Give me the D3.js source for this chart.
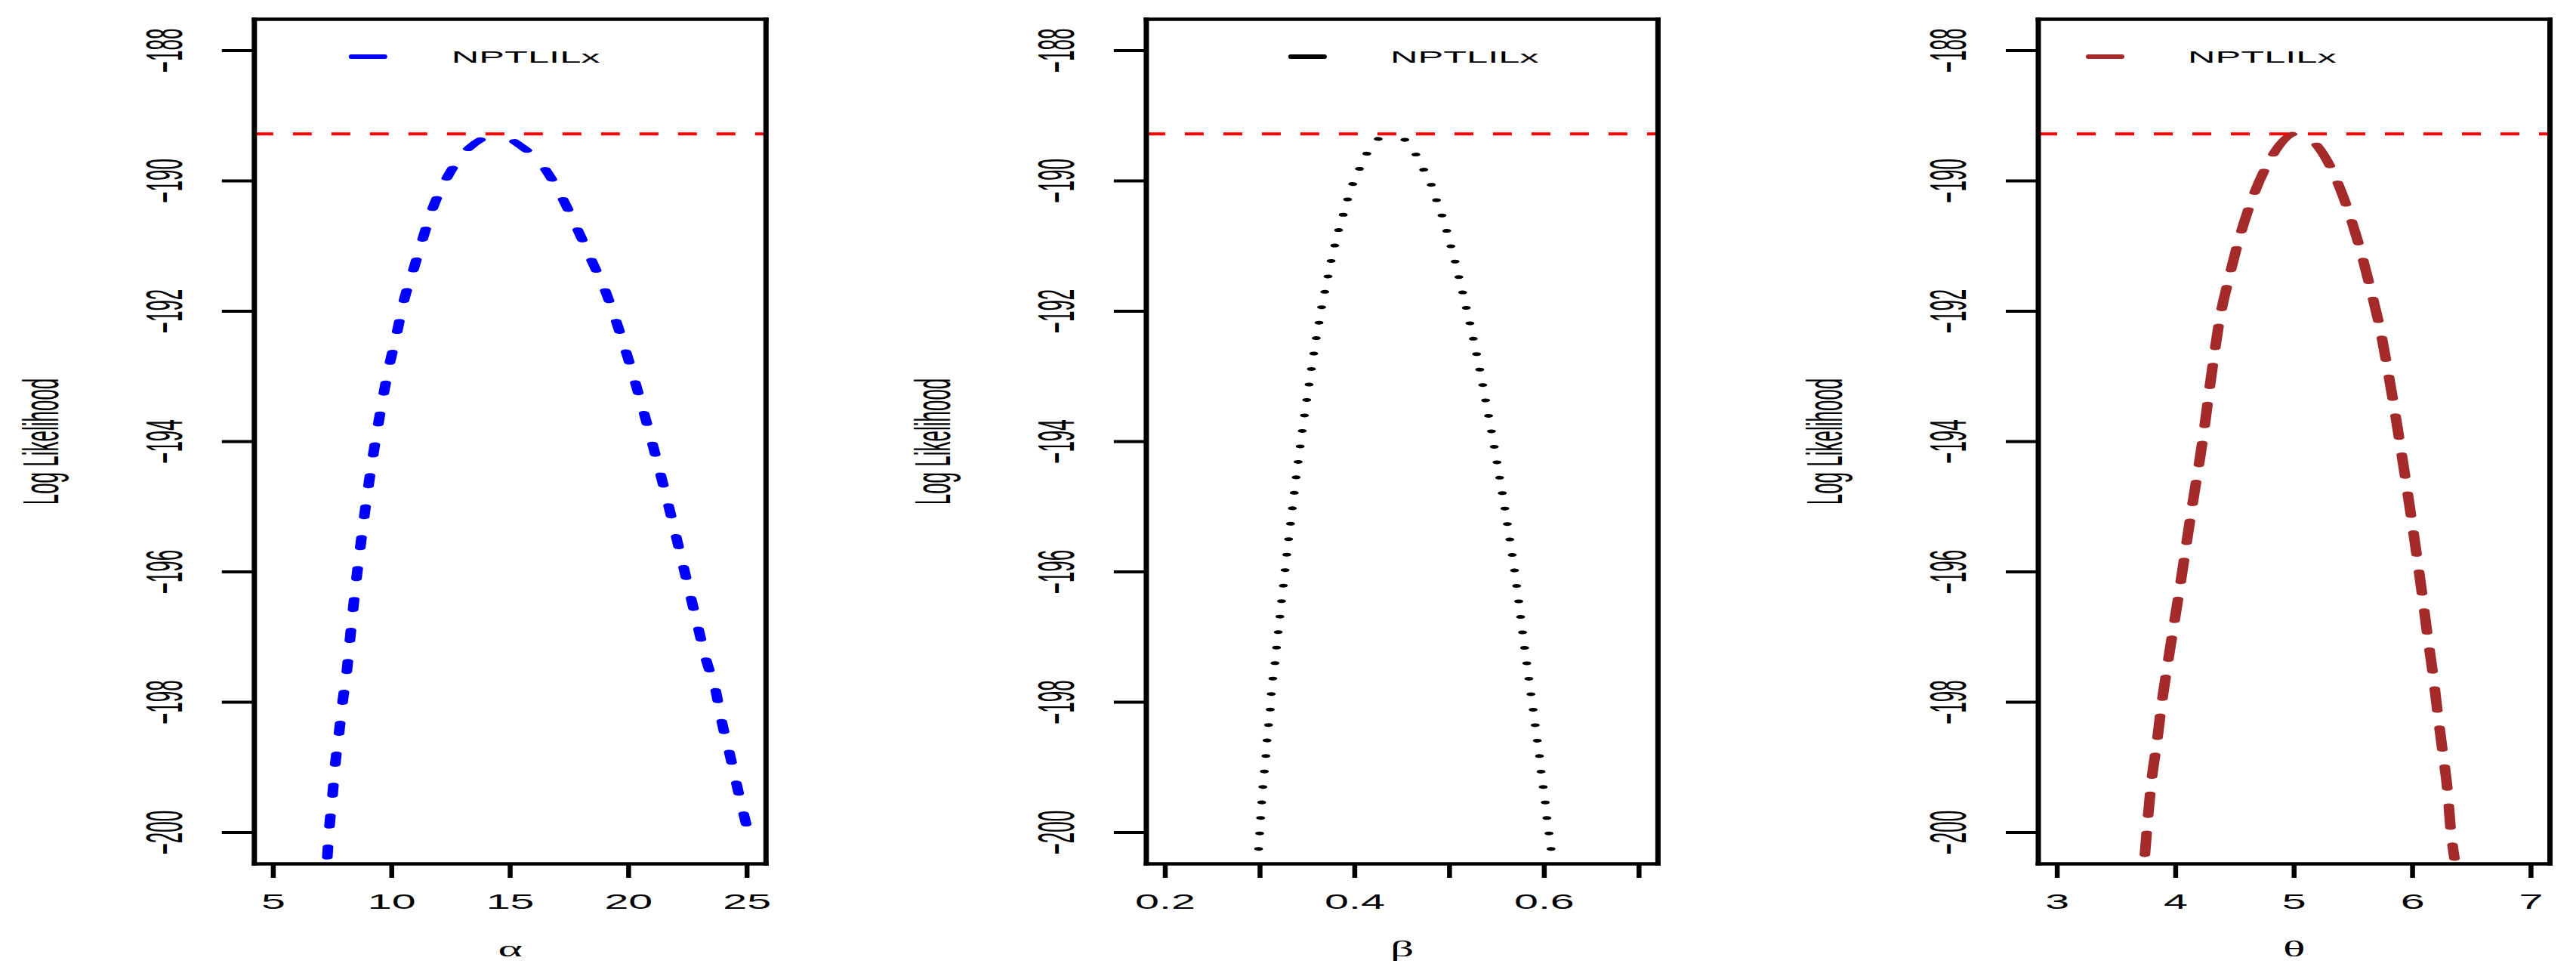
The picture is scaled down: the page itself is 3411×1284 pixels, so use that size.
<!DOCTYPE html>
<html><head><meta charset="utf-8">
<script src="https://cdn.jsdelivr.net/npm/d3@7"></script>
<style>html,body{margin:0;padding:0;background:#fff;} svg{display:block;}</style>
</head><body>
<svg id="chart" width="3411" height="1284"></svg>
<script>
// ---------- data ----------
const xLabels = ["α", "β", "θ"];
const xLimits = [[5, 25], [0.2, 0.7], [3, 7]];
const xTicks = [[5, 10, 15, 20, 25], [0.2, 0.3, 0.4, 0.5, 0.6, 0.7], [3, 4, 5, 6, 7]];
const xTickLabels = [["5", "10", "15", "20", "25"], ["0.2", "", "0.4", "", "0.6", ""], ["3", "4", "5", "6", "7"]];
const yLimits = [-200, -188];
const yTicks = [-188, -190, -192, -194, -196, -198, -200];
const yTickLabels = ["−188", "−190", "−192", "−194", "−196", "−198", "−200"];
const yTitle = "Log Likelihood";
const maxLogLik = -189.28;
const legendLabel = "NPTLILx";
const seriesColors = ["#0000FF", "#000000", "#A52A2A"];

const alphaX  = [7.28, 7.37, 7.50, 7.61, 7.77, 7.93, 8.10, 8.22, 8.45, 8.75, 9.05, 9.40, 9.80, 10.23, 10.52, 10.91, 11.29, 11.73, 12.32, 13.25, 14.60, 15.27, 16.50, 17.24, 17.85, 18.45, 19.03, 19.48, 20.00, 20.60, 21.20, 21.80, 22.30, 22.80, 23.29, 23.67, 23.94, 24.27, 24.56, 24.86, 25.00];
const alphaLL = [-200.38, -199.91, -199.43, -198.97, -198.49, -197.98, -197.54, -197.10, -196.30, -195.40, -194.60, -193.80, -193.00, -192.31, -191.83, -191.37, -190.91, -190.42, -189.96, -189.50, -189.28, -189.42, -189.83, -190.29, -190.75, -191.23, -191.70, -192.16, -192.75, -193.50, -194.30, -195.15, -195.90, -196.65, -197.37, -197.81, -198.31, -198.80, -199.26, -199.72, -199.92];

const betaX  = [0.2985, 0.2996, 0.3007, 0.3018, 0.3030, 0.3046, 0.3063, 0.3074, 0.3091, 0.3108, 0.3119, 0.3136, 0.3158, 0.3175, 0.322, 0.329, 0.336, 0.344, 0.352, 0.3595, 0.3623, 0.3651, 0.3684, 0.3718, 0.3751, 0.3791, 0.3830, 0.3880, 0.3925, 0.3981, 0.4054, 0.4132, 0.4266, 0.4400, 0.4529, 0.4647, 0.4731, 0.4810, 0.4866, 0.4922, 0.4972, 0.5016, 0.5061, 0.5101, 0.5140, 0.5179, 0.5218, 0.53, 0.54, 0.55, 0.56, 0.57, 0.5794, 0.5817, 0.5839, 0.5861, 0.5884, 0.5906, 0.5928, 0.5951, 0.5967, 0.5990, 0.6012, 0.6029, 0.6051, 0.6073];
const betaLL = [-200.25, -200.01, -199.77, -199.53, -199.30, -199.06, -198.82, -198.58, -198.34, -198.11, -197.87, -197.63, -197.39, -197.16, -196.55, -195.65, -194.80, -193.90, -193.10, -192.40, -192.17, -191.93, -191.70, -191.46, -191.22, -190.98, -190.75, -190.51, -190.28, -190.04, -189.80, -189.57, -189.34, -189.29, -189.37, -189.60, -189.84, -190.07, -190.31, -190.54, -190.77, -191.01, -191.25, -191.49, -191.72, -191.96, -192.20, -192.76, -193.51, -194.31, -195.17, -196.12, -197.18, -197.42, -197.65, -197.89, -198.13, -198.37, -198.61, -198.84, -199.08, -199.32, -199.56, -199.79, -200.03, -200.27];

const thetaX  = [3.740, 3.763, 3.794, 3.840, 3.880, 3.930, 4.030, 4.130, 4.230, 4.300, 4.374, 4.446, 4.531, 4.631, 4.771, 5.020, 5.165, 5.332, 5.459, 5.558, 5.644, 5.721, 5.800, 5.900, 6.000, 6.070, 6.137, 6.173, 6.213, 6.254, 6.295, 6.322, 6.354];
const thetaLL = [-200.34, -199.83, -199.24, -198.64, -198.05, -197.44, -196.30, -195.10, -193.95, -193.00, -192.10, -191.52, -190.92, -190.35, -189.76, -189.27, -189.40, -189.88, -190.47, -191.05, -191.65, -192.23, -193.00, -194.10, -195.30, -196.20, -197.12, -197.58, -198.18, -198.76, -199.35, -199.95, -200.40];

const seriesX = [alphaX, betaX, thetaX];
const seriesY = [alphaLL, betaLL, thetaLL];

// ---------- layout ----------
const SX = 2.35;             // horizontal stretch of the original raster
const panelLeft0 = 336.8, panelStep = 1181.1, panelW = 677.5;
const plotTop = 25.5, plotBottom = 1143.5;
const legendLineOff = [128, 191, 66];
const legendTextOff = [261, 323, 198];
const dashes = ["14 27", "0.01 20.5", "29 22.7"];
const widths = [6, 5, 6];
const font = "'Liberation Sans', Arial, Helvetica, sans-serif";

const svg = d3.select("#chart");
svg.append("rect").attr("width", 3411).attr("height", 1284).attr("fill", "#fff");
const defs = svg.append("defs");

function ext(lim) { const r = lim[1] - lim[0]; return [lim[0] - 0.04 * r, lim[1] + 0.04 * r]; }

const y = d3.scaleLinear().domain(ext(yLimits)).range([plotBottom, plotTop]);

for (let i = 0; i < 3; i++) {
  const L = panelLeft0 + i * panelStep;
  const x = d3.scaleLinear().domain(ext(xLimits[i])).range([L, L + panelW]);
  const xl = d3.scaleLinear().domain(ext(xLimits[i])).range([0, panelW / SX]);

  defs.append("clipPath").attr("id", "clip" + i)
    .append("rect").attr("x", 0).attr("y", plotTop).attr("width", panelW / SX).attr("height", plotBottom - plotTop);

  const gl = svg.append("g").attr("transform", `translate(${L},0) scale(${SX},1)`);
  const pts = seriesX[i].map((v, k) => [v, seriesY[i][k]]);
  const line = d3.line().x(d => xl(d[0])).y(d => y(d[1])).curve(d3.curveMonotoneX);
  gl.append("path").attr("d", line(pts))
    .attr("clip-path", `url(#clip${i})`)
    .attr("fill", "none").attr("stroke", seriesColors[i])
    .attr("stroke-width", widths[i]).attr("stroke-linecap", "round")
    .attr("stroke-dasharray", dashes[i]);

  svg.append("line").attr("x1", L).attr("x2", L + panelW)
    .attr("y1", y(maxLogLik)).attr("y2", y(maxLogLik))
    .attr("stroke", "#FF0000").attr("stroke-width", 4).attr("stroke-dasharray", "25 26");

  const g = svg.append("g").attr("stroke", "#000");
  g.append("line").attr("x1", L - 3.5).attr("x2", L + panelW + 3.5).attr("y1", plotTop).attr("y2", plotTop).attr("stroke-width", 4.5);
  g.append("line").attr("x1", L - 3.5).attr("x2", L + panelW + 3.5).attr("y1", plotBottom).attr("y2", plotBottom).attr("stroke-width", 4.5);
  g.append("line").attr("x1", L).attr("x2", L).attr("y1", plotTop - 2.25).attr("y2", plotBottom + 2.25).attr("stroke-width", 7);
  g.append("line").attr("x1", L + panelW).attr("x2", L + panelW).attr("y1", plotTop - 2.25).attr("y2", plotBottom + 2.25).attr("stroke-width", 7);

  yTicks.forEach((t, k) => {
    g.append("line").attr("x1", L - 43).attr("x2", L).attr("y1", y(t)).attr("y2", y(t)).attr("stroke-width", 4);
    svg.append("text").text(yTickLabels[k])
      .attr("transform", `translate(${L - 96},${y(t)}) scale(2.6,1) rotate(-90)`)
      .attr("text-anchor", "middle").attr("font-family", font).attr("font-size", 26).attr("fill", "#000");
  });

  xTicks[i].forEach((t, k) => {
    g.append("line").attr("x1", x(t)).attr("x2", x(t)).attr("y1", plotBottom).attr("y2", plotBottom + 18.5).attr("stroke-width", 6.5);
    if (xTickLabels[i][k]) {
      svg.append("text").text(xTickLabels[i][k])
        .attr("transform", `translate(${x(t)},1203) scale(2.05,1)`)
        .attr("text-anchor", "middle").attr("font-family", font).attr("font-size", 28).attr("fill", "#000");
    }
  });

  svg.append("text").text(xLabels[i])
    .attr("transform", `translate(${L + panelW / 2},1266) scale(2.05,1)`)
    .attr("text-anchor", "middle").attr("font-family", "'Liberation Serif', 'Times New Roman', serif")
    .attr("font-size", 30).attr("fill", "#000");
  svg.append("text").text(yTitle)
    .attr("transform", `translate(${L - 260},${(plotTop + plotBottom) / 2}) scale(2.55,1) rotate(-90)`)
    .attr("text-anchor", "middle").attr("font-family", font).attr("font-size", 26).attr("fill", "#000");

  svg.append("line").attr("x1", L + legendLineOff[i]).attr("x2", L + legendLineOff[i] + 45)
    .attr("y1", 75).attr("y2", 75).attr("stroke", seriesColors[i]).attr("stroke-width", 6).attr("stroke-linecap", "round");
  svg.append("text").text(legendLabel)
    .attr("transform", `translate(${L + legendTextOff[i]},83) scale(2.3,1)`)
    .attr("font-family", font).attr("font-size", 22).attr("fill", "#000");
}
</script>
</body></html>
